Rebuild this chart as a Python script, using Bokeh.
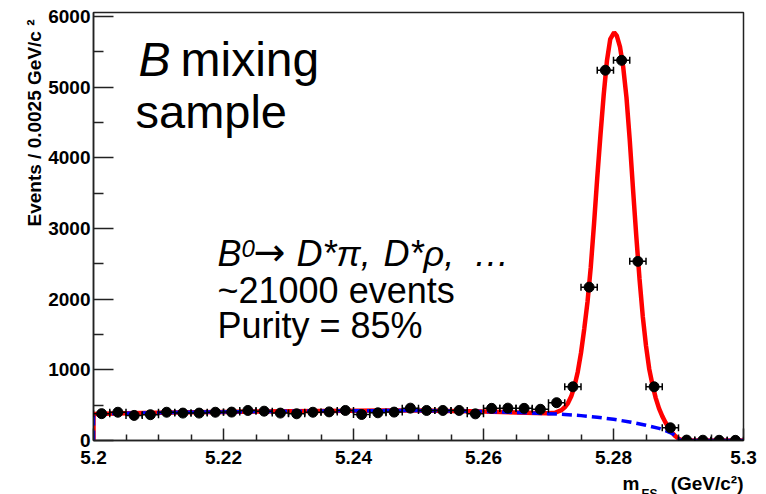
import numpy as np
from bokeh.plotting import figure
from bokeh.layouts import column
from bokeh.models import FixedTicker, Label, Whisker, TeeHead, ColumnDataSource, Range1d, Title
from bokeh.embed import file_html
from bokeh.resources import INLINE

# ---------------- data ----------------
mes = [5.20125, 5.20375, 5.20625, 5.20875, 5.21125, 5.21375, 5.21625, 5.21875,
       5.22125, 5.22375, 5.22625, 5.22875, 5.23125, 5.23375, 5.23625, 5.23875,
       5.24125, 5.24375, 5.24625, 5.24875, 5.25125, 5.25375, 5.25625, 5.25875,
       5.26125, 5.26375, 5.26625, 5.26875, 5.27125, 5.27375, 5.27625, 5.27875,
       5.28125, 5.28375, 5.28625, 5.28875, 5.29125, 5.29375, 5.29625, 5.29875]
events = [380, 400, 355, 365, 400, 388, 388, 400,
          402, 425, 415, 388, 378, 400, 405, 425,
          368, 392, 402, 458, 425, 425, 425, 377,
          455, 458, 455, 442, 535, 760, 2170, 5240,
          5380, 2535, 760, 180, 6, 4, 3, 2]
bin_half_width = 0.00125

fit_x = [5.2, 5.2, 5.205, 5.21, 5.215, 5.22, 5.225, 5.23, 5.235, 5.24, 5.245,
         5.25, 5.255, 5.26, 5.265, 5.268, 5.27, 5.271, 5.272, 5.2725, 5.273,
         5.2735, 5.274, 5.2745, 5.275, 5.2755, 5.276, 5.2765, 5.277, 5.2775,
         5.278, 5.2785, 5.279, 5.2795, 5.2801, 5.2805, 5.281, 5.2815, 5.282,
         5.2825, 5.283, 5.2835, 5.284, 5.2845, 5.285, 5.2855, 5.286, 5.2865,
         5.287, 5.2875, 5.288, 5.2885, 5.289, 5.2895, 5.29, 5.2905, 5.291, 5.3]
fit_y = [0, 375, 385, 393, 400, 405, 410, 414, 418, 421, 423,
         423, 419, 410, 398, 390, 387, 393, 430, 470, 530,
         625, 770, 970, 1240, 1580, 1960, 2450, 3060, 3720,
         4330, 4900, 5380, 5680, 5775, 5730, 5570, 5280, 4850,
         4250, 3560, 2900, 2290, 1760, 1340, 1010, 785, 600,
         455, 345, 255, 180, 112, 62, 25, 5, 0, 0]

bkg_x = [5.2, 5.2, 5.205, 5.21, 5.215, 5.22, 5.225, 5.23, 5.235, 5.24, 5.245,
         5.25, 5.255, 5.26, 5.265, 5.27, 5.2725, 5.275, 5.2775, 5.28, 5.2825,
         5.285, 5.287, 5.288, 5.289, 5.2897, 5.2903, 5.3]
bkg_y = [0, 375, 385, 393, 400, 405, 410, 414, 418, 421, 423,
         423, 419, 410, 398, 380, 368, 352, 330, 300, 262,
         215, 172, 140, 100, 55, 0, 0]

x_ticks = [5.2, 5.22, 5.24, 5.26, 5.28, 5.3]
x_tick_labels = ["5.2", "5.22", "5.24", "5.26", "5.28", "5.3"]
x_minor_ticks = [5.205, 5.21, 5.215, 5.225, 5.23, 5.235, 5.245, 5.25, 5.255,
                 5.265, 5.27, 5.275, 5.285, 5.29, 5.295]
y_ticks = [0, 1000, 2000, 3000, 4000, 5000, 6000]
y_tick_labels = ["0", "1000", "2000", "3000", "4000", "5000", "6000"]
y_minor_ticks = [500, 1500, 2500, 3500, 4500, 5500]

FONT = "Liberation Sans"

# ---------------- main figure (766 x 474); x-title strip below (766 x 20) ----------------
p = figure(width=766, height=474, x_range=Range1d(5.2, 5.3), y_range=Range1d(0, 6057),
           output_backend="svg", toolbar_location=None, title=None,
           min_border_left=93, min_border_right=23, min_border_top=12, min_border_bottom=34)
p.background_fill_color = "white"
p.border_fill_color = "white"
p.outline_line_color = "#222222"
p.outline_line_width = 1.5
p.xgrid.visible = False
p.ygrid.visible = False

xa = p.xaxis[0]
xa.ticker = FixedTicker(ticks=x_ticks, minor_ticks=x_minor_ticks)
xa.major_label_overrides = {v: t for v, t in zip(x_ticks, x_tick_labels)}
xa.major_tick_in = 12
xa.major_tick_out = 0
xa.minor_tick_in = 6
xa.minor_tick_out = 0
xa.major_label_standoff = 10

ya = p.yaxis[0]
ya.ticker = FixedTicker(ticks=y_ticks, minor_ticks=y_minor_ticks)
ya.major_label_overrides = {v: t for v, t in zip(y_ticks, y_tick_labels)}
ya.major_tick_in = 20
ya.major_tick_out = 0
ya.minor_tick_in = 10
ya.minor_tick_out = 0
ya.major_label_standoff = 3

for ax in (xa, ya):
    ax.axis_line_color = "#222222"
    ax.axis_line_width = 1.5
    ax.major_tick_line_color = "#222222"
    ax.major_tick_line_width = 1.5
    ax.minor_tick_line_color = "#222222"
    ax.minor_tick_line_width = 1.5
    ax.major_label_text_font = FONT
    ax.major_label_text_font_style = "bold"
    ax.major_label_text_font_size = "19px"
    ax.major_label_text_color = "black"

# y-axis title (left side panel, aligned to the top end)
p.add_layout(Title(text="Events / 0.0025 GeV/c \u00b2", align="right", offset=7, standoff=2,
                   text_font=FONT, text_font_size="19px", text_font_style="bold",
                   text_color="black"), "left")

# curves
p.line(fit_x, fit_y, line_color="#ff0000", line_width=4.5)
p.line(bkg_x, bkg_y, line_color="#0000ff", line_width=3.5, line_dash="10 5")

# data points
src = ColumnDataSource(dict(x=mes, y=events,
                            xlo=[m - bin_half_width for m in mes],
                            xhi=[m + bin_half_width for m in mes]))
p.scatter("x", "y", source=src, size=10, color="black", marker="circle")
wh = Whisker(source=src, base="y", lower="xlo", upper="xhi", dimension="width",
             line_color="black", line_width=1.5, level="annotation",
             upper_head=TeeHead(size=7, line_color="black", line_width=1.5),
             lower_head=TeeHead(size=7, line_color="black", line_width=1.5))
p.add_layout(wh)


def lab(fig, text, sx, sy, size, style="normal", align="left", font=FONT):
    # sy is the wanted baseline (px up from the frame bottom); the renderer puts the
    # alphabetic baseline about 0.4 em below the anchor, so lift the anchor by that
    fig.add_layout(Label(x=sx, y=sy + 0.4 * size, x_units="screen", y_units="screen",
                         text=text, text_font=font, text_font_size=f"{size}px",
                         text_font_style=style, text_color="black", text_align=align,
                         text_baseline="alphabetic"))


# texts inside the frame (frame left = 93 px, frame bottom = 440 px on the page)
FL, FB = 93, 440
lab(p, "B", 138 - FL, FB - 78, 48, "italic")
lab(p, "mixing", 180 - FL, FB - 78, 48)
lab(p, "sample", 135 - FL, FB - 130, 47)

lab(p, "B", 217 - FL, FB - 267, 36, "italic")
lab(p, "0", 241 - FL, FB - 258, 24, "italic")
lab(p, "\u2192", 253 - FL, FB - 267, 38, font="DejaVu Sans")
lab(p, "D*\u03c0,", 296 - FL, FB - 267, 36, "italic")
lab(p, "D*\u03c1,", 383 - FL, FB - 267, 36, "italic")
lab(p, "\u2026", 473 - FL, FB - 267, 36, "italic")
lab(p, "~21000 events", 217 - FL, FB - 304, 36)
lab(p, "Purity = 85%", 217 - FL, FB - 339, 36)

# x-axis title strip (page y 474..494); its frame is aligned with the main frame (left = 93 px)
xs = figure(width=766, height=20, x_range=Range1d(0, 1), y_range=Range1d(0, 1),
            output_backend="svg", toolbar_location=None, title=None,
            x_axis_type=None, y_axis_type=None, min_border=0)
xs.outline_line_color = None
xs.background_fill_color = "white"
xs.border_fill_color = "white"
lab(xs, "m", 622 - FL, 494 - 491, 19, "bold")
lab(xs, "ES", 641 - FL, 494 - 498, 12, "bold")
lab(xs, "(GeV/c\u00b2)", 743 - FL, 494 - 491, 19, "bold", "right")

layout = column(p, xs, spacing=0)

open("out.html", "w").write(file_html(layout, INLINE))
